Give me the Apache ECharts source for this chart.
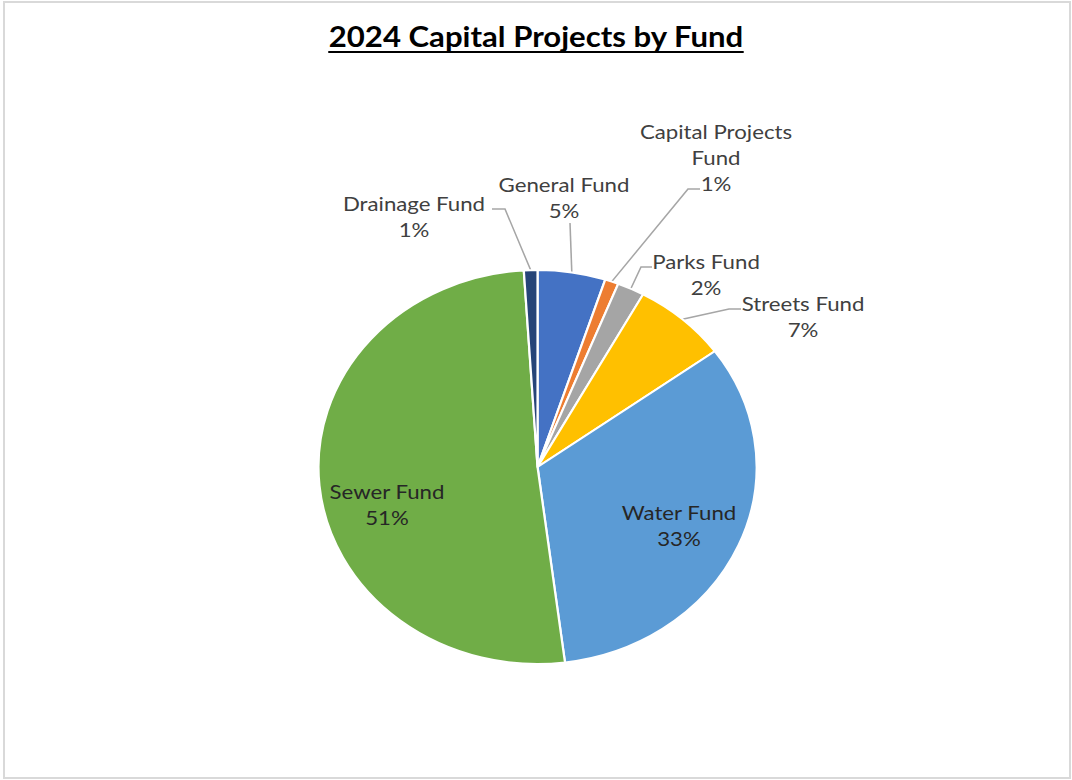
<!DOCTYPE html>
<html>
<head>
<meta charset="utf-8">
<script src="https://cdn.jsdelivr.net/npm/echarts@6/dist/echarts.min.js"></script>
<style>
  html, body { margin: 0; padding: 0; background: #fff; overflow: hidden; }
  /* drawing is laid out narrower and stretched sideways, giving the wide oval pie */
  #chart { position: absolute; left: 0; top: 0; width: 964px; height: 780px;
           transform: scaleX(1.112); transform-origin: 0 0; }
  #frame { position: absolute; left: 3px; top: 1px; width: 1068px; height: 778px;
           border: 2px solid #d9d9d9; box-sizing: border-box; pointer-events: none; }
</style>
</head>
<body>
<div id="chart"></div>
<div id="frame"></div>
<script>
const SX = 1.112;

const titleText = '2024 Capital Projects by Fund';
const categories = ['General Fund', 'Capital Projects Fund', 'Parks Fund', 'Streets Fund',
                    'Water Fund', 'Sewer Fund', 'Drainage Fund'];
const shares = [5, 1, 2, 7, 33, 51, 1];
const sliceColors = ['#4472C4', '#ED7D31', '#A5A5A5', '#FFC000', '#5B9BD5', '#70AD47', '#264478'];

// label block centres and leader-line bend/end points, in page pixels
const labelSpots = {
  'General Fund':          { c: [564, 197], bend: [570, 223], end: [570, 223] },
  'Capital Projects Fund': { c: [716, 157], bend: [688, 189], end: [700, 189] },
  'Parks Fund':            { c: [706, 274], bend: [641, 267], end: [652, 267] },
  'Streets Fund':          { c: [803, 316], bend: [729, 309], end: [741, 309] },
  'Water Fund':            { c: [679, 525] },
  'Sewer Fund':            { c: [387, 504] },
  'Drainage Fund':         { c: [414, 216], bend: [505, 209], end: [492, 209] }
};
const insideLabels = new Set(['Water Fund', 'Sewer Fund']);

const toChart = p => [p[0] / SX, p[1]];
function wrapName(n) {
  if (n.length <= 16) return n;
  const k = n.lastIndexOf(' ');
  return n.slice(0, k) + '\n' + n.slice(k + 1);
}

const chart = echarts.init(document.getElementById('chart'), null, { renderer: 'svg' });
const W = chart.getWidth();

const titleFont = { family: 'Lato', size: 28, weight: 'bold' };
const ctx = document.createElement('canvas').getContext('2d');
ctx.font = titleFont.weight + ' ' + titleFont.size + 'px ' + titleFont.family;
const titleWidth = ctx.measureText(titleText).width;

chart.setOption({
  backgroundColor: '#ffffff',
  animation: false,
  title: {
    text: titleText,
    left: 'center',
    top: 17,
    textStyle: { fontFamily: titleFont.family, fontSize: titleFont.size,
                 fontWeight: titleFont.weight, color: '#000000' }
  },
  graphic: [{
    type: 'rect',
    shape: { x: (W - titleWidth) / 2, y: 51, width: titleWidth, height: 2 },
    style: { fill: '#000000' }
  }],
  series: [{
    type: 'pie',
    center: [483.4, 467],
    radius: 197,
    startAngle: 90,
    clockwise: true,
    avoidLabelOverlap: false,
    itemStyle: { borderColor: '#ffffff', borderWidth: 2 },
    label: {
      fontFamily: 'Lato', fontSize: 20, lineHeight: 26, color: '#404040',
      formatter: p => wrapName(p.name) + '\n' + p.value + '%'
    },
    labelLine: { lineStyle: { color: '#A6A6A6', width: 1.4 }, length: 20, length2: 10 },
    labelLayout: function (p) {
      const spot = labelSpots[categories[p.dataIndex]];
      const c = toChart(spot.c);
      const out = { x: c[0], y: c[1], align: 'center', verticalAlign: 'middle' };
      if (spot.bend && p.labelLinePoints) {
        out.labelLinePoints = [p.labelLinePoints[0], toChart(spot.bend), toChart(spot.end)];
      }
      return out;
    },
    emphasis: { disabled: true },
    data: categories.map((name, i) => ({
      name: name,
      value: shares[i],
      itemStyle: { color: sliceColors[i] },
      label: {
        position: insideLabels.has(name) ? 'inside' : 'outside',
        color: insideLabels.has(name) ? '#262626' : '#404040'
      },
      labelLine: { show: !insideLabels.has(name) }
    }))
  }]
});
</script>
</body>
</html>
